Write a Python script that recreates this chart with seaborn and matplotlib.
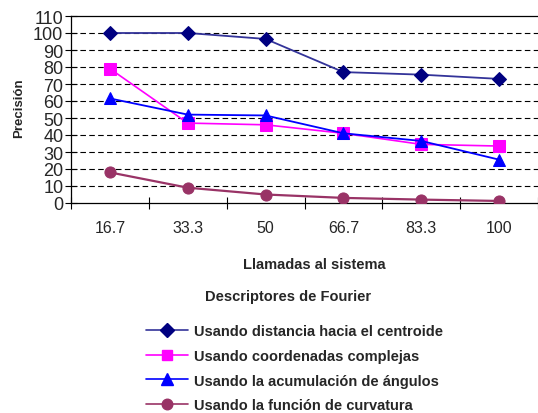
import matplotlib
matplotlib.use("Agg")
import matplotlib.pyplot as plt
import seaborn as sns
import pandas as pd
from matplotlib.lines import Line2D

# Data
categorias = ["16.7", "33.3", "50", "66.7", "83.3", "100"]
centroide = [100, 100, 96.5, 77, 75.5, 73]
complejas = [79, 47, 46, 41, 34.5, 33.5]
angulos = [61.5, 52, 51.5, 41, 36.5, 25.5]
curvatura = [18, 9, 5, 3, 2, 1.2]

nombres = [
    "Usando distancia hacia el centroide",
    "Usando coordenadas complejas",
    "Usando la acumulación de ángulos",
    "Usando la función de curvatura",
]
valores = [centroide, complejas, angulos, curvatura]
colores = ["#000080", "#FF00FF", "#0000FF", "#993366"]
lineas = ["#333399", "#FF00FF", "#0000FF", "#993366"]
marcadores = ["D", "s", "^", "o"]
tamanos = [7.5, 8, 8.5, 8]
grosores = [1.3, 1.2, 1.3, 1.6]

filas = []
for nombre, serie in zip(nombres, valores):
    for i, v in enumerate(serie):
        filas.append({"serie": nombre, "pos": i, "valor": v})
df = pd.DataFrame(filas)

sns.set_theme(style="white")
plt.rcParams["font.family"] = ["Liberation Sans", "DejaVu Sans"]

fig = plt.figure(figsize=(5.38, 4.14), dpi=100)
ax = fig.add_axes([71 / 538, (414 - 204) / 414, 467 / 538, 187 / 414])

# dashed horizontal grid drawn under the data
for yv in range(10, 101, 10):
    ax.axhline(yv, color="black", lw=0.8, ls=(0, (5, 3)), zorder=1)

sns.lineplot(
    data=df, x="pos", y="valor", hue="serie", style="serie",
    hue_order=nombres, style_order=nombres,
    palette=dict(zip(nombres, lineas)),
    markers=dict(zip(nombres, marcadores)), dashes=False,
    lw=1.3, legend=False, ax=ax, zorder=3,
)
for ln, c, ms, lw in zip(ax.get_lines()[-4:], colores, tamanos, grosores):
    ln.set_markerfacecolor(c)
    ln.set_markeredgecolor(c)
    ln.set_markersize(ms)
    ln.set_linewidth(lw)

ax.set_xlim(-0.5, 5.5)
ax.set_ylim(0, 110)
ax.set_yticks(range(0, 111, 10))
ax.tick_params(axis="y", direction="inout", length=9, width=0.8, color="black",
               labelsize=13, pad=1, left=True)
ax.set_xticks([i - 0.5 for i in range(7)])
ax.set_xticklabels([])
ax.set_xticks(range(6), minor=True)
ax.set_xticklabels(categorias, minor=True)
ax.tick_params(axis="x", which="major", direction="inout", length=8, width=0.8,
               color="black", bottom=True)
ax.tick_params(axis="x", which="minor", length=0, labelsize=11.5, pad=12)

for lado in ["left", "bottom", "top"]:
    ax.spines[lado].set_color("black")
    ax.spines[lado].set_linewidth(0.9)
ax.spines["right"].set_visible(False)

ax.set_xlabel("")
ax.set_ylabel("")
fig.text(19 / 538, 1 - 108 / 414, "Precisión", rotation=90, ha="center",
         va="center", fontsize=9.5, fontweight="bold")
fig.text(314 / 538, 1 - 265 / 414, "Llamadas al sistema", ha="center",
         va="center", fontsize=10.5, fontweight="bold")

# legend title sits apart from the entries
fig.text(288 / 538, 1 - 297 / 414, "Descriptores de Fourier", ha="center",
         va="center", fontsize=10.5, fontweight="bold")

manejadores = [
    Line2D([0], [0], color=l, lw=1.2, marker=m, markersize=ms * 0.95,
           markerfacecolor=c, markeredgecolor=c)
    for l, c, m, ms in zip(lineas, colores, marcadores, tamanos)
]
fig.legend(
    manejadores, nombres,
    loc="upper left", bbox_to_anchor=(134 / 538, 1 - 313 / 414),
    frameon=False, handlelength=2.9, handletextpad=0.4, labelspacing=0.75,
    borderpad=0.3, prop={"weight": "bold", "size": 10.5},
)

fig.savefig("out.png", dpi=100)
